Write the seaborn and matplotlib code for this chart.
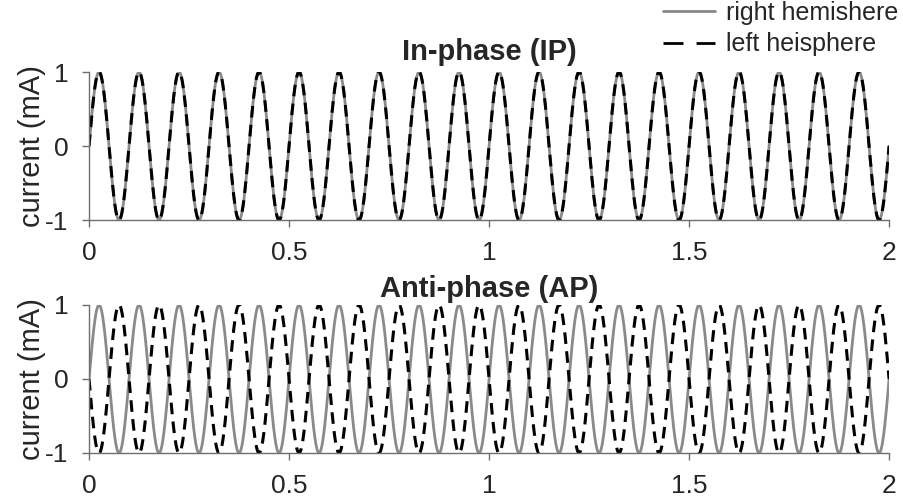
import numpy as np
import pandas as pd
import matplotlib
matplotlib.use("Agg")
import matplotlib.pyplot as plt
from matplotlib.lines import Line2D
import seaborn as sns

# ---- data (parameters) ----
panel_titles = ["In-phase (IP)", "Anti-phase (AP)"]
series_names = ["right hemishere", "left heisphere"]
stim_freq_hz = [10, 10]              # right, left
stim_amp_ma = [1.0, 1.0]
phase_rad_ip = [0.0, 0.0]            # right, left (in-phase)
phase_rad_ap = [0.0, np.pi]          # right, left (anti-phase)
x_ticks = [0, 0.5, 1, 1.5, 2]
x_tick_labels = ["0", "0.5", "1", "1.5", "2"]
y_ticks = [-1, 0, 1]
y_tick_labels = ["-1", "0", "1"]
duration_s = 2.0
time_s = np.linspace(0, duration_s, 4001)

sns.set_style("white")
plt.rcParams["font.family"] = ["Liberation Sans", "DejaVu Sans"]
plt.rcParams["axes.unicode_minus"] = False

fig = plt.figure(figsize=(9.04, 4.99), dpi=100)
ax_top = fig.add_axes([0.0985, 0.5591, 0.885, 0.2966])
ax_bot = fig.add_axes([0.0985, 0.0922, 0.885, 0.2966])

gray = "#8a8a8a"
spine_col = "#6e6e6e"

for ax, title, phases, tpad in [(ax_top, panel_titles[0], phase_rad_ip, 9),
                                (ax_bot, panel_titles[1], phase_rad_ap, 6)]:
    frames = []
    for name, f, a, ph in zip(series_names, stim_freq_hz, stim_amp_ma, phases):
        frames.append(pd.DataFrame({"t": time_s,
                                    "I": a * np.sin(2 * np.pi * f * time_s + ph),
                                    "hemi": name}))
    df = pd.concat(frames, ignore_index=True)
    sns.lineplot(data=df[df.hemi == series_names[0]], x="t", y="I", ax=ax,
                 color=gray, linewidth=2.0, estimator=None, legend=False)
    sns.lineplot(data=df[df.hemi == series_names[1]], x="t", y="I", ax=ax,
                 color="black", linewidth=2.2, estimator=None, legend=False,
                 dashes=False)
    ax.lines[-1].set_dashes((3.8, 2.4))
    ax.set_xlim(0, duration_s)
    ax.set_ylim(-1, 1)
    ax.set_xticks(x_ticks)
    ax.set_xticklabels(x_tick_labels)
    ax.set_yticks(y_ticks)
    ax.set_yticklabels(y_tick_labels)
    ax.set_xlabel("")
    ax.set_ylabel("current (mA)", fontsize=21, labelpad=-1)
    ax.set_title(title, fontsize=21, fontweight="bold", pad=tpad)
    for s in ["top", "right"]:
        ax.spines[s].set_visible(False)
    for s in ["left", "bottom"]:
        ax.spines[s].set_color(spine_col)
        ax.spines[s].set_linewidth(1.0)
    ax.tick_params(axis="both", direction="out", length=5, width=1.0,
                   color=spine_col, labelsize=19)
    ax.tick_params(axis="x", pad=10)
    ax.tick_params(axis="y", pad=10)
    ax.tick_params(left=True, bottom=True)

handles = [Line2D([0], [0], color=gray, linewidth=2.0),
           Line2D([0], [0], color="black", linewidth=2.0, dashes=(7.2, 4.7))]
fig.legend(handles, series_names, loc="upper left",
           bbox_to_anchor=(663 / 904, 1 - 1 / 499), frameon=False, fontsize=18,
           handlelength=2.08, handletextpad=0.44, labelspacing=0.3,
           borderpad=0.0, borderaxespad=0.0)

fig.savefig("out.png", dpi=100)
